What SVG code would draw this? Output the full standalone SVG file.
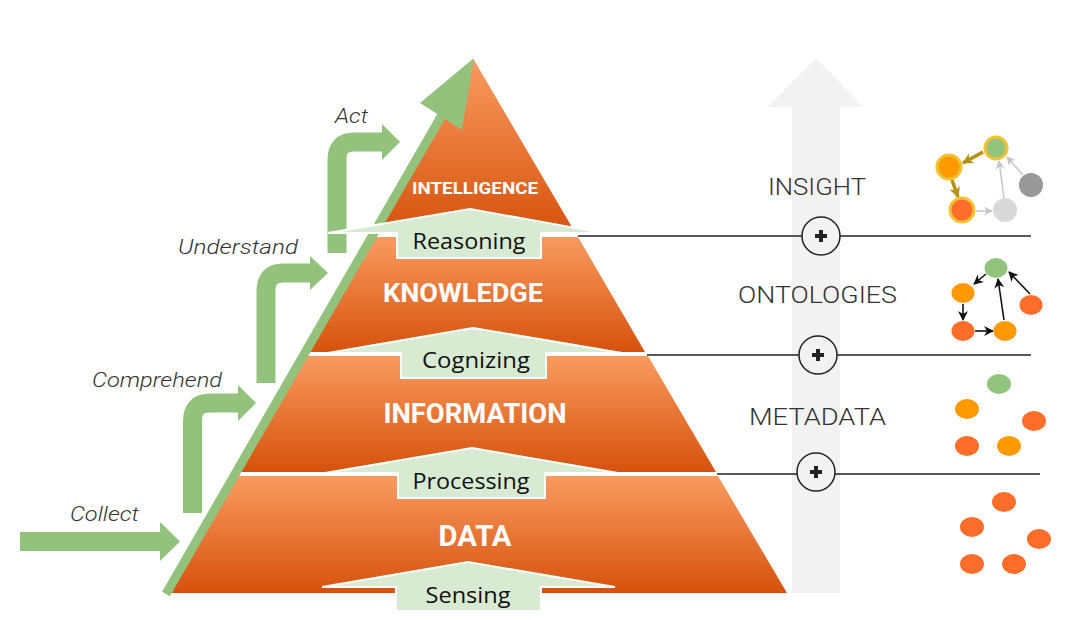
<svg xmlns="http://www.w3.org/2000/svg" width="1085" height="620" viewBox="0 0 1085 620">
<defs>
<linearGradient id="og" x1="0" y1="0" x2="0" y2="1">
<stop offset="0" stop-color="#F99B60"/>
<stop offset="1" stop-color="#D6520C"/>
</linearGradient>
<marker id="mk" viewBox="0 0 10 10" refX="9" refY="5" markerWidth="10" markerHeight="10" markerUnits="userSpaceOnUse" orient="auto">
<path d="M0,0 L10,5 L0,10 L3,5 Z" fill="#111"/>
</marker>
<marker id="mg" viewBox="0 0 10 10" refX="9" refY="5" markerWidth="11" markerHeight="11" markerUnits="userSpaceOnUse" orient="auto">
<path d="M0,0 L10,5 L0,10 L3,5 Z" fill="#B8900F"/>
</marker>
<marker id="ml" viewBox="0 0 10 10" refX="9" refY="5" markerWidth="9" markerHeight="9" markerUnits="userSpaceOnUse" orient="auto">
<path d="M0,0 L10,5 L0,10 L3,5 Z" fill="#C6C6C6"/>
</marker>
</defs>
<style>
.layer{fill:url(#og)}
.step{fill:#D9EAD3;stroke:#fff;stroke-width:2}
.green{fill:none;stroke:#92C27C;stroke-width:19}
.gfill{fill:#92C27C}
.lbl{font-family:"Open Sans","Liberation Sans",sans-serif;font-size:21px;fill:#111}
.lay{font-family:Roboto,"Liberation Sans",sans-serif;font-weight:bold;fill:#fff}
.act{font-family:Roboto,"Liberation Sans",sans-serif;font-style:italic;font-weight:300;font-size:21px;fill:#333}
.cat{font-family:Roboto,"Liberation Sans",sans-serif;font-weight:300;font-size:24px;fill:#333}
.sep{stroke:#222;stroke-width:1.5;fill:none}
.plus{fill:#F2F2F2;stroke:#222;stroke-width:1.5}
.or{fill:#FF6D2A}.ye{fill:#FF9900}.gr{fill:#93C47D}
.blk{stroke:#111;stroke-width:1.6;fill:none}
</style>

<g id="insight-arrow">
<polygon points="816,58 863,107 840,107 840,593 792,593 792,107 768,107" fill="#F2F2F2"/>
</g>

<g id="pyramid">
<polygon class="layer" points="474,60 576,234 375,234"/>
<polygon class="layer" points="373,237 578,237 645,352 308,352"/>
<polygon class="layer" points="305,356 648,356 716,472 239,472"/>
<polygon class="layer" points="237,476 718,476 787,593 170,593"/>
</g>

<g id="connectors">
<line x1="166" y1="594" x2="446" y2="108" stroke="#92C27C" stroke-width="9"/>
<polygon class="gfill" points="474,58 420,103 462,130"/>
<path class="green" d="M20,541.5 H161"/>
<polygon class="gfill" points="160,522 180,541.5 160,561"/>
<path class="green" d="M192.5,513 V421 Q192.5,403 210,403 H239"/>
<polygon class="gfill" points="238,385 256,403 238,421"/>
<path class="green" d="M266,383 V291 Q266,273 283,273 H311"/>
<polygon class="gfill" points="310,256 328,273 310,290"/>
<path class="green" d="M337,253 V160 Q337,142 354,142 H383"/>
<polygon class="gfill" points="382,124 400,142 382,160"/>
<line class="sep" x1="578" y1="236" x2="1031" y2="236"/>
<line class="sep" x1="647" y1="355" x2="1031" y2="355"/>
<line class="sep" x1="717" y1="474" x2="1040" y2="474"/>
</g>

<g id="step-reasoning">
<polygon class="step" points="328,233 470,209 603,233 541,233 541,258 397,258 397,233"/>
<text class="lbl" x="469" y="249" text-anchor="middle" textLength="113" lengthAdjust="spacingAndGlyphs">Reasoning</text>
</g>
<g id="step-cognizing">
<polygon class="step" points="328,353 473,328 622,353 546,353 546,378 401,378 401,353"/>
<text class="lbl" x="476" y="368" text-anchor="middle" textLength="108" lengthAdjust="spacingAndGlyphs">Cognizing</text>
</g>
<g id="step-processing">
<polygon class="step" points="325,473 472,448 618,473 545,473 545,498 398,498 398,473"/>
<text class="lbl" x="471" y="489" text-anchor="middle" textLength="117" lengthAdjust="spacingAndGlyphs">Processing</text>
</g>
<g id="step-sensing">
<polygon class="step" points="322,587 468,562 615,587 541,587 541,611 396,611 396,587"/>
<text class="lbl" x="468" y="603" text-anchor="middle" textLength="85" lengthAdjust="spacingAndGlyphs">Sensing</text>
</g>

<g id="layer-labels">
<text class="lay" x="475" y="194" font-size="17" text-anchor="middle" textLength="126" lengthAdjust="spacingAndGlyphs">INTELLIGENCE</text>
<text class="lay" x="463" y="302" font-size="25" text-anchor="middle" textLength="160" lengthAdjust="spacingAndGlyphs">KNOWLEDGE</text>
<text class="lay" x="475" y="423" font-size="27" text-anchor="middle" textLength="183" lengthAdjust="spacingAndGlyphs">INFORMATION</text>
<text class="lay" x="475" y="546" font-size="29" text-anchor="middle" textLength="73" lengthAdjust="spacingAndGlyphs">DATA</text>
</g>

<g id="action-labels">
<text class="act" x="335" y="123" textLength="33" lengthAdjust="spacingAndGlyphs">Act</text>
<text class="act" x="178" y="254" textLength="120" lengthAdjust="spacingAndGlyphs">Understand</text>
<text class="act" x="92" y="387" textLength="130" lengthAdjust="spacingAndGlyphs">Comprehend</text>
<text class="act" x="70" y="521" textLength="69" lengthAdjust="spacingAndGlyphs">Collect</text>
</g>

<g id="category-labels">
<text class="cat" x="768" y="195" textLength="98" lengthAdjust="spacingAndGlyphs">INSIGHT</text>
<text class="cat" x="738" y="303" textLength="159" lengthAdjust="spacingAndGlyphs">ONTOLOGIES</text>
<text class="cat" x="749" y="425" textLength="137" lengthAdjust="spacingAndGlyphs">METADATA</text>
</g>

<g id="plus-1">
<circle class="plus" cx="821" cy="236" r="19"/>
<rect x="815" y="234" width="12" height="4" fill="#222"/><rect x="819" y="230" width="4" height="12" fill="#222"/>
</g>
<g id="plus-2">
<circle class="plus" cx="818" cy="355" r="19"/>
<rect x="812" y="353" width="12" height="4" fill="#222"/><rect x="816" y="349" width="4" height="12" fill="#222"/>
</g>
<g id="plus-3">
<circle class="plus" cx="816" cy="472" r="19"/>
<rect x="810" y="470" width="12" height="4" fill="#222"/><rect x="814" y="466" width="4" height="12" fill="#222"/>
</g>

<g id="insight-graph">
<line x1="983" y1="152" x2="963" y2="163" stroke="#B8900F" stroke-width="3.5" marker-end="url(#mg)"/>
<line x1="952" y1="180" x2="958" y2="197" stroke="#B8900F" stroke-width="3.5" marker-end="url(#mg)"/>
<line x1="976" y1="211" x2="992" y2="211" stroke="#C6C6C6" stroke-width="1.5" marker-end="url(#ml)"/>
<line x1="1004" y1="198" x2="999" y2="161" stroke="#C6C6C6" stroke-width="1.5" marker-end="url(#ml)"/>
<line x1="1023" y1="175" x2="1007" y2="157" stroke="#C6C6C6" stroke-width="1.5" marker-end="url(#ml)"/>
<circle cx="996" cy="148" r="11" fill="#93C47D" stroke="#F1C232" stroke-width="3"/>
<circle cx="949" cy="167" r="12" fill="#FF9900" stroke="#F1C232" stroke-width="3"/>
<circle cx="962" cy="210" r="12" fill="#FF6D2A" stroke="#F1C232" stroke-width="3"/>
<circle cx="1005" cy="210" r="12" fill="#D9D9D9"/>
<circle cx="1031" cy="185" r="12" fill="#999999"/>
</g>

<g id="ontology-graph">
<line class="blk" x1="986" y1="274" x2="974" y2="284" marker-end="url(#mk)"/>
<line class="blk" x1="963" y1="304" x2="963" y2="320" marker-end="url(#mk)"/>
<line class="blk" x1="975" y1="331" x2="993" y2="331" marker-end="url(#mk)"/>
<line class="blk" x1="1004" y1="320" x2="998" y2="279" marker-end="url(#mk)"/>
<line class="blk" x1="1030" y1="294" x2="1009" y2="272" marker-end="url(#mk)"/>
<ellipse class="gr" cx="996" cy="268" rx="11.5" ry="10"/>
<ellipse class="ye" cx="963" cy="293" rx="11.5" ry="10"/>
<ellipse class="or" cx="963" cy="331" rx="11.5" ry="10"/>
<ellipse class="ye" cx="1005" cy="331" rx="11.5" ry="10"/>
<ellipse class="or" cx="1031" cy="305" rx="11.5" ry="10"/>
</g>

<g id="metadata-dots">
<ellipse class="gr" cx="999" cy="384" rx="12" ry="10"/>
<ellipse class="ye" cx="967" cy="409" rx="12" ry="10"/>
<ellipse class="or" cx="1034" cy="421" rx="12" ry="10"/>
<ellipse class="or" cx="967" cy="446" rx="12" ry="10"/>
<ellipse class="ye" cx="1009" cy="446" rx="12" ry="10"/>
</g>

<g id="data-dots">
<ellipse class="or" cx="1004" cy="502" rx="12" ry="10"/>
<ellipse class="or" cx="972" cy="527" rx="12" ry="10"/>
<ellipse class="or" cx="1039" cy="539" rx="12" ry="10"/>
<ellipse class="or" cx="972" cy="564" rx="12" ry="10"/>
<ellipse class="or" cx="1014" cy="564" rx="12" ry="10"/>
</g>
</svg>
